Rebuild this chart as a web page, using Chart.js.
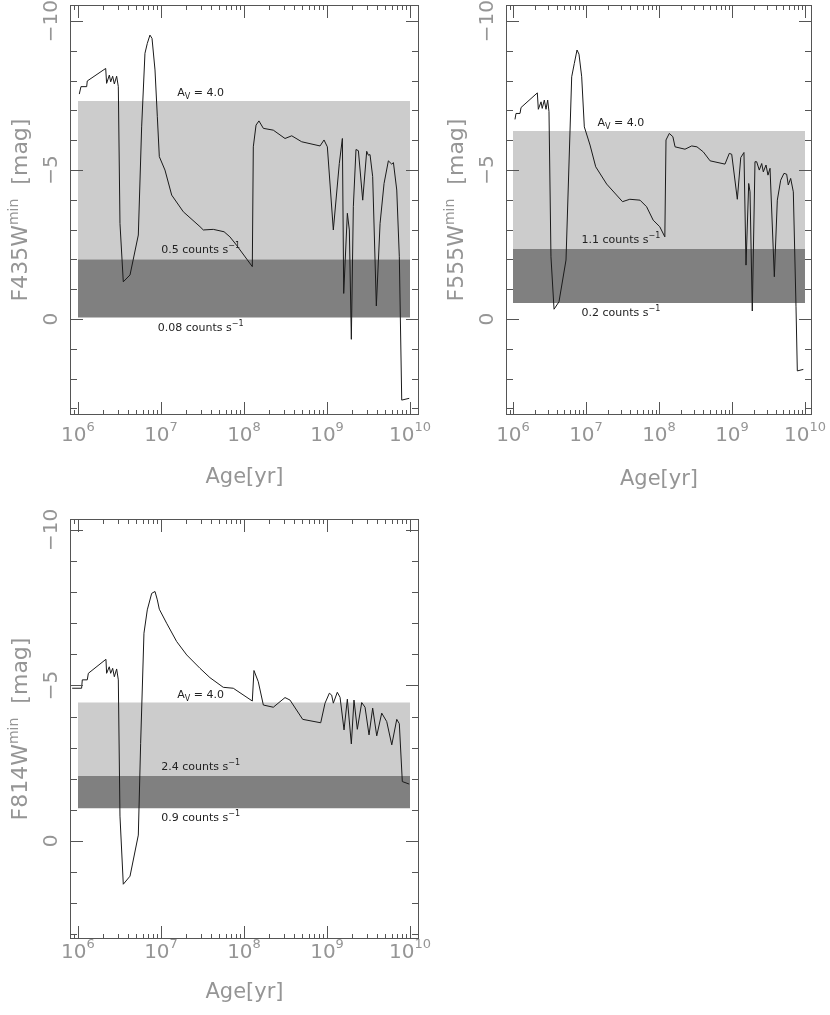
<!DOCTYPE html>
<html>
<head>
<meta charset="utf-8">
<script src="https://cdn.jsdelivr.net/npm/chart.js@4.4.1/dist/chart.umd.min.js"></script>
<style>
  body { margin: 0; background: #fff; }
  #page { position: relative; width: 830px; height: 1015px; overflow: hidden; }
  canvas { position: absolute; }
</style>
</head>
<body>
<div id="page">
  <canvas id="c435" width="450" height="500" style="left:0;top:0"></canvas>
  <canvas id="c555" width="410" height="500" style="left:420px;top:0"></canvas>
  <canvas id="c814" width="450" height="515" style="left:0;top:500px"></canvas>
</div>
<script>
/// Data: log10(age/yr) and minimum detectable magnitude
const f435LogAge = [6.016, 6.036, 6.105, 6.112, 6.334, 6.345, 6.378, 6.394, 6.418, 6.438, 6.466, 6.486, 6.506, 6.546, 6.627, 6.727, 6.767, 6.807, 6.835, 6.867, 6.892, 6.928, 6.956, 6.98, 7.048, 7.129, 7.269, 7.47, 7.51, 7.63, 7.76, 7.83, 7.91, 8.10, 8.112, 8.145, 8.18, 8.233, 8.353, 8.494, 8.575, 8.695, 8.916, 8.964, 9.004, 9.076, 9.148, 9.185, 9.201, 9.245, 9.269, 9.293, 9.317, 9.349, 9.378, 9.43, 9.478, 9.498, 9.518, 9.55, 9.594, 9.639, 9.687, 9.739, 9.779, 9.80, 9.84, 9.871, 9.90, 9.99];
const f435Mag = [-7.55, -7.80, -7.80, -7.99, -8.41, -7.91, -8.19, -7.96, -8.15, -7.89, -8.15, -7.80, -3.21, -1.25, -1.48, -2.82, -6.45, -8.92, -9.25, -9.53, -9.42, -8.36, -6.79, -5.45, -5.00, -4.16, -3.60, -3.10, -2.99, -3.01, -2.93, -2.76, -2.48, -1.76, -5.78, -6.51, -6.65, -6.40, -6.34, -6.06, -6.15, -5.95, -5.81, -6.01, -5.78, -2.99, -5.22, -6.06, -0.86, -3.55, -2.99, 0.68, -3.77, -5.69, -5.65, -3.99, -5.63, -5.50, -5.52, -4.78, -0.44, -3.21, -4.55, -5.31, -5.20, -5.25, -4.33, -2.09, 2.72, 2.66];

const f555LogAge = [6.027, 6.041, 6.096, 6.11, 6.333, 6.347, 6.384, 6.40, 6.429, 6.452, 6.475, 6.493, 6.52, 6.562, 6.63, 6.726, 6.804, 6.84, 6.877, 6.904, 6.941, 6.977, 7.055, 7.133, 7.283, 7.50, 7.60, 7.74, 7.83, 7.92, 8.01, 8.08, 8.096, 8.141, 8.19, 8.22, 8.356, 8.448, 8.52, 8.607, 8.70, 8.904, 8.963, 8.996, 9.073, 9.12, 9.164, 9.192, 9.229, 9.247, 9.278, 9.315, 9.338, 9.374, 9.407, 9.429, 9.466, 9.493, 9.521, 9.58, 9.621, 9.667, 9.712, 9.749, 9.771, 9.804, 9.84, 9.877, 9.895, 9.977];
const f555Mag = [-6.70, -6.90, -6.90, -7.10, -7.59, -7.04, -7.29, -7.07, -7.35, -7.04, -7.35, -6.96, -2.09, -0.33, -0.58, -1.98, -8.13, -8.58, -9.03, -8.89, -8.13, -6.45, -5.84, -5.11, -4.53, -3.94, -4.02, -3.99, -3.77, -3.32, -3.10, -2.76, -6.01, -6.23, -6.12, -5.78, -5.70, -5.81, -5.78, -5.61, -5.31, -5.20, -5.56, -5.53, -4.02, -5.42, -5.59, -1.81, -4.55, -4.27, -0.27, -5.28, -5.28, -5.00, -5.22, -4.94, -5.17, -4.83, -5.06, -1.42, -3.99, -4.66, -4.89, -4.86, -4.50, -4.72, -4.27, -0.41, 1.74, 1.69];

const f814LogAge = [5.93, 6.044, 6.052, 6.112, 6.125, 6.337, 6.345, 6.377, 6.394, 6.418, 6.438, 6.466, 6.486, 6.506, 6.546, 6.627, 6.727, 6.755, 6.795, 6.835, 6.888, 6.928, 6.956, 6.98, 7.068, 7.189, 7.31, 7.47, 7.59, 7.75, 7.871, 8.10, 8.12, 8.172, 8.233, 8.353, 8.494, 8.554, 8.707, 8.924, 8.976, 9.028, 9.056, 9.076, 9.124, 9.157, 9.205, 9.245, 9.293, 9.325, 9.365, 9.418, 9.458, 9.506, 9.55, 9.599, 9.659, 9.719, 9.78, 9.84, 9.871, 9.907, 9.99];
const f814Mag = [-4.91, -4.91, -5.18, -5.18, -5.39, -5.84, -5.39, -5.60, -5.39, -5.55, -5.28, -5.53, -5.18, -0.80, 1.39, 1.13, -0.19, -3.14, -6.68, -7.43, -7.96, -8.02, -7.75, -7.45, -7.00, -6.41, -5.98, -5.55, -5.25, -4.94, -4.91, -4.50, -5.48, -5.12, -4.37, -4.30, -4.61, -4.53, -3.91, -3.80, -4.43, -4.75, -4.69, -4.43, -4.78, -4.62, -3.57, -4.56, -3.12, -4.53, -3.59, -4.45, -4.30, -3.41, -4.27, -3.38, -4.11, -3.84, -3.09, -3.91, -3.77, -1.91, -1.83];

/// Shaded bands: [A_V = 4.0 limit, upper count rate, lower count rate] in mag
const f435Band = [-7.32, -2.01, -0.05];
const f555Band = [-6.31, -2.35, -0.54];
const f814Band = [-4.45, -2.09, -1.05];
const f435Counts = ['0.5', '0.08'];
const f555Counts = ['1.1', '0.2'];
const f814Counts = ['2.4', '0.9'];
const bandAges = [1e6, 1e10];
const labelAge = 3e7;
const avLabel = '4.0';

const xDecades = [6, 7, 8, 9, 10];
const yMajor = [-10, -5, 0];

const FONT = '"DejaVu Sans", sans-serif';
const AXIS_GREY = '#959595';
const FRAME = '#555555';

/// Draw a string made of parts (text, size, raise) centred on x
function richText(ctx, parts, x, y, color) {
    let w = 0;
    parts.forEach(p => {
        ctx.font = p.size + 'px ' + FONT;
        p.w = ctx.measureText(p.t).width;
        w += p.w;
    });
    let cx = x - w / 2;
    ctx.fillStyle = color;
    ctx.textAlign = 'left';
    ctx.textBaseline = 'alphabetic';
    parts.forEach(p => {
        ctx.font = p.size + 'px ' + FONT;
        ctx.fillText(p.t, cx, y - (p.up || 0));
        cx += p.w;
    });
}

/// Frame, inward ticks on all sides, tick labels and titles (PGPLOT look)
const framePlugin = {
    id: 'frame',
    afterDatasetsDraw(chart, args, opts) {
        const ctx = chart.ctx;
        const a = chart.chartArea;
        const x = chart.scales.x, y = chart.scales.y;
        ctx.save();

        // band annotations
        const lx = x.getPixelForValue(labelAge);
        const b = opts.band;
        richText(ctx, [{t: 'A', size: 11}, {t: 'V', size: 8, up: -3}, {t: ' = ' + avLabel, size: 11}],
            lx, y.getPixelForValue(b[0]) - 5, '#222');
        richText(ctx, [{t: opts.counts[0] + ' counts s', size: 11}, {t: '\u22121', size: 8, up: 5}],
            lx, y.getPixelForValue(b[1]) - 6, '#222');
        richText(ctx, [{t: opts.counts[1] + ' counts s', size: 11}, {t: '\u22121', size: 8, up: 5}],
            lx, y.getPixelForValue(b[2]) + 13, '#222');

        // frame
        ctx.strokeStyle = FRAME;
        ctx.lineWidth = 1;
        ctx.strokeRect(Math.round(a.left) + 0.5, Math.round(a.top) + 0.5,
            Math.round(a.width) - 1, Math.round(a.height) - 1);

        ctx.beginPath();
        for (let d = 5; d <= 10; d++) {
            for (let k = 1; k <= 9; k++) {
                const v = k * Math.pow(10, d);
                if (v < x.min || v > x.max) continue;
                const px = Math.round(x.getPixelForValue(v)) + 0.5;
                const len = k === 1 ? 13 : 5;
                ctx.moveTo(px, a.bottom); ctx.lineTo(px, a.bottom - len);
                ctx.moveTo(px, a.top); ctx.lineTo(px, a.top + len);
            }
        }
        for (let m = Math.ceil(y.min); m <= y.max; m++) {
            const py = Math.round(y.getPixelForValue(m)) + 0.5;
            const len = m % 5 === 0 ? 13 : 7;
            ctx.moveTo(a.left, py); ctx.lineTo(a.left + len, py);
            ctx.moveTo(a.right, py); ctx.lineTo(a.right - len, py);
        }
        ctx.stroke();

        // x tick labels 10^n
        xDecades.forEach(d => {
            const px = x.getPixelForValue(Math.pow(10, d));
            richText(ctx, [{t: '10', size: 20}, {t: String(d), size: 13, up: 10}],
                px, a.bottom + opts.tickBase, AXIS_GREY);
        });
        richText(ctx, [{t: 'Age[yr]', size: 21}], (a.left + a.right) / 2,
            a.bottom + opts.titleBase, AXIS_GREY);

        // y tick labels, rotated
        yMajor.forEach(m => {
            ctx.save();
            ctx.translate(a.left - 13, y.getPixelForValue(m));
            ctx.rotate(-Math.PI / 2);
            richText(ctx, [{t: m < 0 ? '\u2212' + Math.abs(m) : String(m), size: 20}], 0, 0, AXIS_GREY);
            ctx.restore();
        });
        ctx.save();
        ctx.translate(a.left - 43, (a.top + a.bottom) / 2);
        ctx.rotate(-Math.PI / 2);
        richText(ctx, [{t: opts.filter, size: 22}, {t: 'min', size: 14, up: 9}, {t: '  [mag]', size: 22}],
            0, 0, AXIS_GREY);
        ctx.restore();

        ctx.restore();
    }
};

function bandSet(level, fill, color) {
    return {
        data: bandAges.map(t => ({x: t, y: level})),
        borderWidth: 0,
        pointRadius: 0,
        fill: fill,
        backgroundColor: color,
        order: 1
    };
}

/// Setup one panel
function makePanel(id, logAge, mag, band, counts, filter, o) {
    return new Chart(id, {
        type: 'line',
        data: {
            datasets: [
                bandSet(band[0], '+1', '#cccccc'),
                bandSet(band[1], '+1', '#808080'),
                bandSet(band[2], false, 'rgba(0,0,0,0)'),
                {
                    data: logAge.map((lg, i) => ({x: Math.pow(10, lg), y: mag[i]})),
                    borderColor: '#1a1a1a',
                    borderWidth: 1,
                    pointRadius: 0,
                    fill: false,
                    tension: 0,
                    order: 0
                }
            ]
        },
        options: {
            responsive: false,
            animation: false,
            layout: {padding: o.pad},
            plugins: {
                legend: {display: false},
                tooltip: {enabled: false},
                filler: {drawTime: 'beforeDatasetsDraw'},
                frame: {band: band, counts: counts, filter: filter,
                        tickBase: o.tickBase, titleBase: o.titleBase}
            },
            scales: {
                x: {type: 'logarithmic', display: false,
                    min: Math.pow(10, o.xLo), max: Math.pow(10, o.xHi)},
                y: {type: 'linear', display: false, reverse: true,
                    min: o.yLo, max: o.yHi}
            }
        },
        plugins: [framePlugin]
    });
}

makePanel('c435', f435LogAge, f435Mag, f435Band, f435Counts, 'F435W',
    {pad: {left: 70, top: 5, right: 31, bottom: 85}, xLo: 5.904, xHi: 10.108,
     yLo: -10.54, yHi: 3.22, tickBase: 26, titleBase: 68});
makePanel('c555', f555LogAge, f555Mag, f555Band, f555Counts, 'F555W',
    {pad: {left: 86, top: 5, right: 18, bottom: 85}, xLo: 5.904, xHi: 10.096,
     yLo: -10.54, yHi: 3.22, tickBase: 26, titleBase: 70});
makePanel('c814', f814LogAge, f814Mag, f814Band, f814Counts, 'F814W',
    {pad: {left: 70, top: 19, right: 31, bottom: 76}, xLo: 5.904, xHi: 10.108,
     yLo: -10.35, yHi: 3.15, tickBase: 19, titleBase: 59});
</script>
</body>
</html>
